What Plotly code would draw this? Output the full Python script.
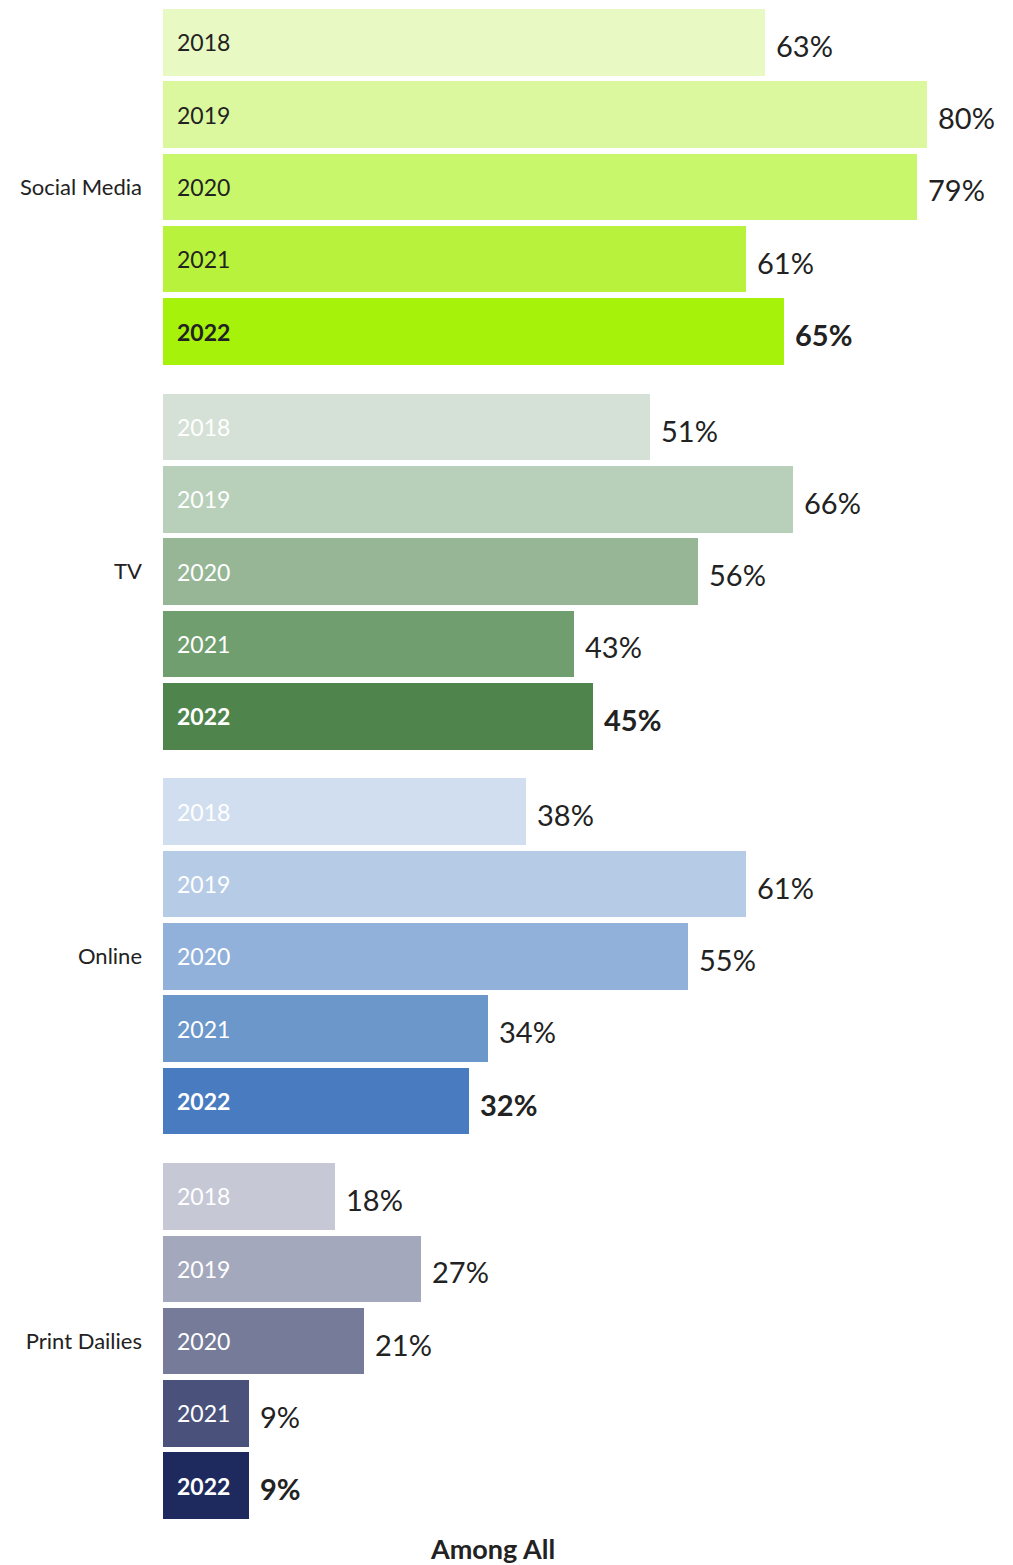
import plotly.graph_objects as go

categories = ["Social Media", "TV", "Online", "Print Dailies"]
years = ["2018", "2019", "2020", "2021", "2022"]

social_media = [63, 80, 79, 61, 65]
tv = [51, 66, 56, 43, 45]
online = [38, 61, 55, 34, 32]
print_dailies = [18, 27, 21, 9, 9]

colors = {
    "Social Media": ["#E8F9C4", "#DCF89E", "#C9F76B", "#B9F23C", "#A6F20A"],
    "TV": ["#D5E1D6", "#B8CFBA", "#96B695", "#719E6F", "#4F844C"],
    "Online": ["#D1DEEF", "#B6CBE6", "#91B1DA", "#6B97CB", "#487BBF"],
    "Print Dailies": ["#C6C8D6", "#A4A8BC", "#767B9A", "#4A527C", "#1E2A5E"],
}
year_font_color = {"Social Media": "#222222", "TV": "white", "Online": "white", "Print Dailies": "white"}

FONT = "Lato"
GROUP_STEP = 5.32  # bar slots per group incl. gap

series = dict(zip(categories, [social_media, tv, online, print_dailies]))

xs, ys, cols = [], [], []
fig = go.Figure()
for g, cat in enumerate(categories):
    for i, (yr, v) in enumerate(zip(years, series[cat])):
        pos = g * GROUP_STEP + i
        xs.append(v)
        ys.append(pos)
        cols.append(colors[cat][i])
        bold = yr == "2022"
        fig.add_annotation(
            x=0, y=pos, xref="x", yref="y", xanchor="left", xshift=12,
            text=f"<b>{yr}</b>" if bold else yr, showarrow=False,
            font=dict(family=FONT, size=23, color=year_font_color[cat]),
        )
        fig.add_annotation(
            x=v, y=pos, xref="x", yref="y", xanchor="left", xshift=9, yshift=-3,
            text=f"<b>{v}%</b>" if bold else f"{v}%", showarrow=False,
            font=dict(family=FONT, size=29, color="#222222"),
        )

fig.add_trace(go.Bar(
    x=xs, y=ys, orientation="h", width=0.92,
    marker=dict(color=cols, line=dict(width=0)),
    hoverinfo="skip", showlegend=False,
))

fig.add_annotation(
    x=0.388, y=0, xref="paper", yref="paper", yanchor="middle", yshift=-29,
    text="<b>Among All</b>", showarrow=False,
    font=dict(family=FONT, size=27, color="#222222"),
)

n_last = (len(categories) - 1) * GROUP_STEP + len(years) - 1
fig.update_xaxes(range=[0, 89], visible=False, fixedrange=True)
fig.update_yaxes(
    range=[n_last + 0.46, -0.46],
    tickvals=[g * GROUP_STEP + 2 for g in range(len(categories))],
    ticktext=categories,
    ticks="", showgrid=False, zeroline=False, showline=False,
    ticklabelstandoff=20,
    tickfont=dict(family=FONT, size=22, color="#222222"),
)
# page body adds an 8px offset, so the figure is 8px smaller than the window
fig.update_layout(
    width=1005, height=1557,
    margin=dict(l=155, r=0, t=1, b=46),
    plot_bgcolor="white", paper_bgcolor="white",
    bargap=0,
)
fig.write_html("out.html")
